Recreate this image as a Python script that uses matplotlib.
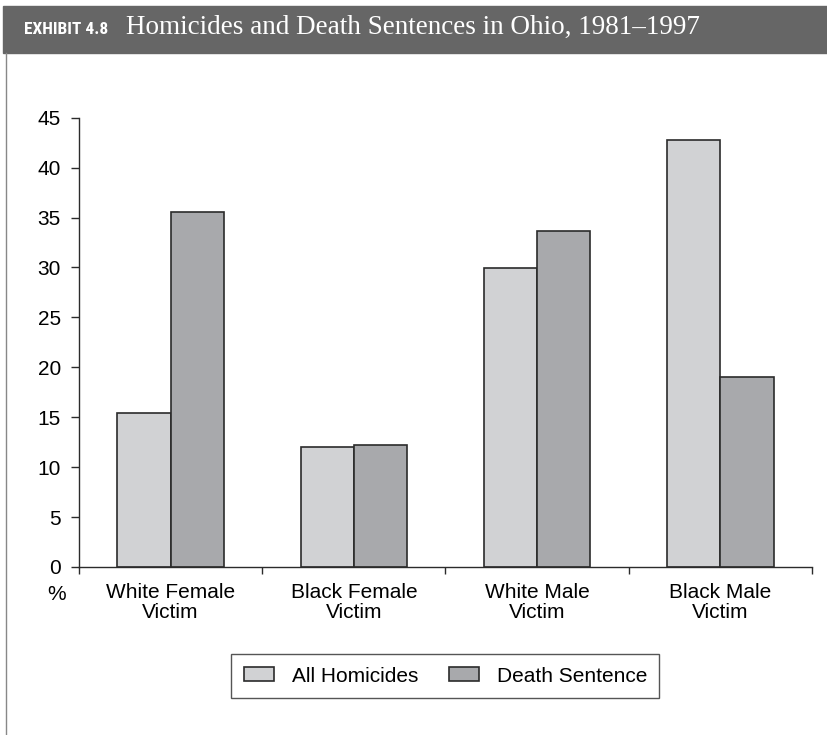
import numpy as np
import matplotlib.pyplot as plt
from matplotlib.patches import Rectangle
from matplotlib.lines import Line2D

# данные
categories = ['White Female\nVictim', 'Black Female\nVictim', 'White Male\nVictim', 'Black Male\nVictim']
all_homicides = [15.4, 12.0, 29.9, 42.8]
death_sentence = [35.6, 12.2, 33.7, 19.0]
series_names = ['All Homicides', 'Death Sentence']
yticks = [0, 5, 10, 15, 20, 25, 30, 35, 40, 45]

light = '#d1d2d4'
dark = '#a8a9ac'
edge = '#2b2b2b'

plt.rcParams['font.family'] = ['Liberation Sans', 'DejaVu Sans']

W, H = 828, 735
fig = plt.figure(figsize=(W / 100, H / 100), dpi=100)

# шапка
fig.patches.append(Rectangle((3 / W, 1 - 53 / H), 1, 47 / H,
                             transform=fig.transFigure, color='#666666', zorder=0))
fig.lines.append(Line2D([6.5 / W, 6.5 / W], [0, 1 - 53 / H],
                        transform=fig.transFigure, color='#888888', lw=1))
fig.text(24 / W, 1 - 34 / H, 'EXHIBIT 4.8', color='white', fontsize=12.5,
         fontweight='bold', va='baseline', family=['Roboto Condensed', 'Liberation Sans'])
fig.text(126 / W, 1 - 34 / H, 'Homicides and Death Sentences in Ohio, 1981\u20131997',
         color='white', fontsize=19.5, va='baseline', family='Liberation Serif')

ax = fig.add_axes([79 / W, 1 - 567 / H, (812 - 79) / W, (567 - 117.7) / H])
x = np.arange(len(categories))
w = 0.29
ax.bar(x - w / 2, all_homicides, w, color=light, edgecolor=edge, linewidth=1.2, label=series_names[0])
ax.bar(x + w / 2, death_sentence, w, color=dark, edgecolor=edge, linewidth=1.2, label=series_names[1])

ax.set_xlim(-0.5, 3.5)
ax.set_ylim(0, 45)
ax.set_yticks(yticks)
ax.tick_params(axis='y', labelsize=15, length=6, width=1, color=edge, pad=7)
ax.set_xticks(np.arange(-0.5, 4.0, 1.0))
ax.set_xticklabels([])
ax.tick_params(axis='x', length=5, width=1, color=edge)
for xi, lab in zip(x, categories):
    ax.text(xi, -1.6, lab, ha='center', va='top', fontsize=15, linespacing=1.05,
            clip_on=False)
ax.text(-0.62, -1.8, '%', ha='center', va='top', fontsize=15, clip_on=False)

for s in ['top', 'right']:
    ax.spines[s].set_visible(False)
for s in ['left', 'bottom']:
    ax.spines[s].set_color(edge)
    ax.spines[s].set_linewidth(1)

leg = ax.legend(loc='center', bbox_to_anchor=(445.5 / W, 1 - 676 / H), bbox_transform=fig.transFigure,
                ncol=2, frameon=True, fancybox=False, fontsize=15, handlelength=1.43,
                handleheight=0.67, handletextpad=0.86, columnspacing=1.48, borderpad=0.6)
leg.get_frame().set_edgecolor(edge)
leg.get_frame().set_linewidth(1)

fig.savefig('out.png', dpi=100)
